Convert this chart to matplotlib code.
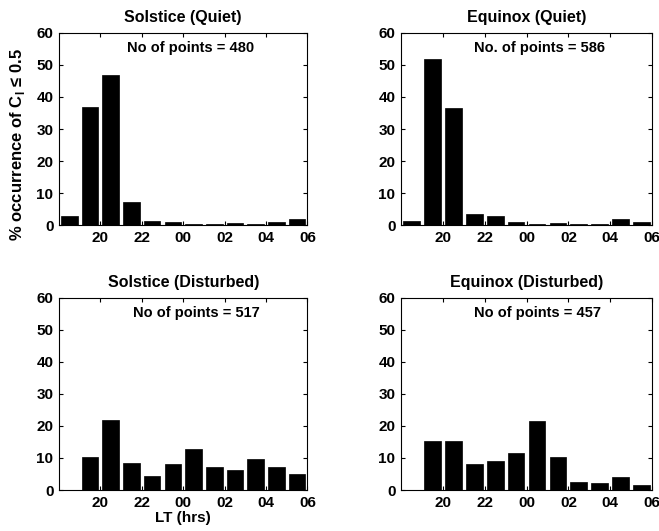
import numpy as np
import matplotlib
matplotlib.use("Agg")
import matplotlib.pyplot as plt

plt.rcParams['font.family'] = ['Liberation Sans', 'DejaVu Sans']
plt.rcParams['font.weight'] = 'bold'

# local time bin centres (hours, 24+ = next day)
lt_centres = [18.5, 19.5, 20.5, 21.5, 22.5, 23.5, 24.5, 25.5, 26.5, 27.5, 28.5, 29.5]
tick_pos = [20, 22, 24, 26, 28, 30]
tick_labels = ['20', '22', '00', '02', '04', '06']

solstice_quiet = [2.8, 37.0, 47.0, 7.3, 1.4, 0.9, 0.5, 0.3, 0.6, 0.4, 1.1, 2.0]
equinox_quiet = [1.4, 52.0, 36.5, 3.5, 2.8, 1.1, 0.4, 0.6, 0.3, 0.3, 1.9, 1.0]
solstice_dist = [0.0, 10.2, 21.8, 8.3, 4.4, 8.0, 12.8, 7.2, 6.2, 9.6, 7.2, 4.9]
equinox_dist = [0.1, 15.2, 15.2, 8.0, 9.0, 11.5, 21.5, 10.2, 2.5, 2.1, 4.0, 1.7]

panels = [
    ('Solstice (Quiet)', solstice_quiet, 'No of points = 480', 0.53, [0.0895, 0.576, 0.377, 0.362]),
    ('Equinox (Quiet)', equinox_quiet, 'No. of points = 586', 0.55, [0.6085, 0.576, 0.381, 0.362]),
    ('Solstice (Disturbed)', solstice_dist, 'No of points = 517', 0.555, [0.0895, 0.0772, 0.377, 0.362]),
    ('Equinox (Disturbed)', equinox_dist, 'No of points = 457', 0.545, [0.6085, 0.0772, 0.381, 0.362]),
]

fig = plt.figure(figsize=(6.59, 5.31), dpi=100)

axes = []
for title, vals, note, note_x, pos in panels:
    ax = fig.add_axes(pos)
    ax.bar(lt_centres, vals, width=0.8, color='black', edgecolor='black', linewidth=0.5)
    ax.set_xlim(18, 30)
    ax.set_ylim(0, 60)
    ax.set_xticks(tick_pos)
    ax.set_xticklabels(tick_labels)
    ax.set_yticks(range(0, 61, 10))
    ax.tick_params(direction='in', top=True, right=True, labelsize=11, length=3, pad=4)
    for lab in ax.get_xticklabels() + ax.get_yticklabels():
        lab.set_fontweight('bold')
    for sp in ax.spines.values():
        sp.set_linewidth(0.8)
    ax.set_title(title, fontsize=11.5, fontweight='bold', pad=8)
    ax.text(note_x, 0.92, note, transform=ax.transAxes, ha='center', va='center',
            fontsize=10.5, fontweight='bold')
    axes.append(ax)

axes[0].set_ylabel('% occurrence of C$_\\mathregular{I}$ ≤ 0.5', fontsize=12, fontweight='bold')
axes[0].yaxis.set_label_coords(-0.13, 0.42)
axes[2].set_xlabel('LT (hrs)', fontsize=11, fontweight='bold', labelpad=1)

plt.savefig('out.png', dpi=100)
